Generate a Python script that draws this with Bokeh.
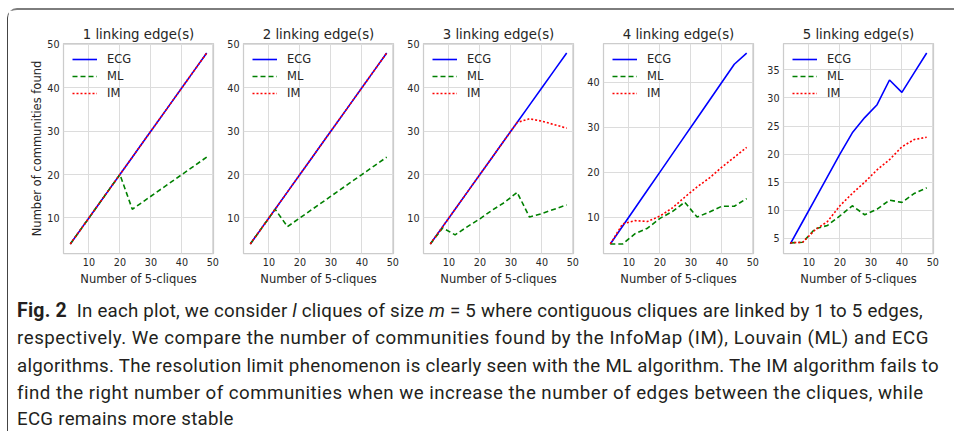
from bokeh.plotting import figure
from bokeh.layouts import row, column
from bokeh.models import FixedTicker, Range1d, Div
from bokeh.embed import file_html
from bokeh.resources import INLINE

# ---- data ----
n_cliques = [4, 8, 12, 16, 20, 24, 28, 32, 36, 40, 44, 48]

titles = ["1 linking edge(s)", "2 linking edge(s)", "3 linking edge(s)",
          "4 linking edge(s)", "5 linking edge(s)"]

ecg_1 = [4, 8, 12, 16, 20, 24, 28, 32, 36, 40, 44, 48]
ml_1 = [4, 8, 12, 16, 20, 12, 14, 16, 18, 20, 22, 24]
im_1 = [4, 8, 12, 16, 20, 24, 28, 32, 36, 40, 44, 48]

ecg_2 = [4, 8, 12, 16, 20, 24, 28, 32, 36, 40, 44, 48]
ml_2 = [4, 8, 12, 8, 10, 12, 14, 16, 18, 20, 22, 24]
im_2 = [4, 8, 12, 16, 20, 24, 28, 32, 36, 40, 44, 48]

ecg_3 = [4, 8, 12, 16, 20, 24, 28, 32, 36, 40, 44, 48]
ml_3 = [4, 7.7, 6.1, 8, 9.8, 11.8, 13.6, 15.9, 10.2, 11, 12, 13]
im_3 = [4, 8, 12, 16, 20, 24, 28, 32, 32.85, 32.3, 31.5, 30.7]

ecg_4 = [4, 8, 12, 16, 20, 24, 28, 32, 36, 40, 44, 46.5]
ml_4 = [4, 4, 6.3, 7.5, 9.7, 11.2, 13.3, 10, 11.1, 12.4, 12.4, 14.1]
im_4 = [4, 8.5, 9.2, 9.0, 10.2, 12, 14.4, 16.7, 18.7, 21.1, 23.3, 25.5]

ecg_5 = [4, 8, 12, 16, 20, 23.8, 26.5, 28.8, 33.2, 31, 34.5, 38]
ml_5 = [4.2, 4.3, 6.7, 7.3, 9, 10.8, 9.2, 10.2, 11.8, 11.4, 13, 14]
im_5 = [4.2, 4.3, 6.5, 8, 10.8, 13, 15, 17.2, 19, 21.3, 22.6, 23]

x_ticks = [10, 20, 30, 40, 50]
y_ticks_a = [10, 20, 30, 40, 50]
y_ticks_4 = [10, 20, 30, 40]
y_ticks_5 = [5, 10, 15, 20, 25, 30, 35]

x_label = "Number of 5-cliques"
y_label = "Number of communities found"

caption_lines = [
    '<b style="font-size:19.5px">Fig. 2</b>&nbsp; In each plot, we consider <i>l</i> cliques of size <i>m</i> = 5 where contiguous cliques are linked by 1 to 5 edges,',
    'respectively. We compare the number of communities found by the InfoMap (IM), Louvain (ML) and ECG',
    'algorithms. The resolution limit phenomenon is clearly seen with the ML algorithm. The IM algorithm fails to',
    'find the right number of communities when we increase the number of edges between the cliques, while',
    'ECG remains more stable',
]
caption_spacing = ["0.22px", "0.53px", "0.28px", "0.47px", "0.27px"]

panels = [
    (ecg_1, ml_1, im_1, y_ticks_a),
    (ecg_2, ml_2, im_2, y_ticks_a),
    (ecg_3, ml_3, im_3, y_ticks_a),
    (ecg_4, ml_4, im_4, y_ticks_4),
    (ecg_5, ml_5, im_5, y_ticks_5),
]

TXT = "#262626"
FONT = "DejaVu Sans"


def padded(vals):
    lo, hi = min(vals), max(vals)
    pad = 0.05 * (hi - lo)
    return Range1d(lo - pad, hi + pad)


figs = []
for i, (ecg, ml, im, yt) in enumerate(panels):
    first = i == 0
    left = 55 if first else 20
    p = figure(width=left + 150 + 10, height=33 + 212 + 33,
               x_range=padded(n_cliques), y_range=padded(ecg + ml + im),
               min_border_left=left,
               min_border_right=10, min_border_top=33, min_border_bottom=33,
               title=titles[i], output_backend="svg", toolbar_location=None,
               background_fill_color="white", border_fill_color="white")
    p.title.text_font = FONT
    p.title.text_font_size = "13.3px"
    p.title.text_font_style = "normal"
    p.title.text_color = TXT
    p.title.align = "center"
    p.title.standoff = 3

    p.xaxis.ticker = FixedTicker(ticks=x_ticks)
    p.yaxis.ticker = FixedTicker(ticks=yt)
    for ax in (p.xaxis[0], p.yaxis[0]):
        ax.major_tick_out = 0
        ax.major_tick_in = 0
        ax.minor_tick_out = 0
        ax.minor_tick_in = 0
        ax.axis_line_color = None
        ax.major_label_text_font = FONT
        ax.major_label_text_font_size = "9.6px"
        ax.major_label_text_color = TXT
        ax.major_label_standoff = 4
        ax.axis_label_text_font = FONT
        ax.axis_label_text_font_size = "11.5px"
        ax.axis_label_text_font_style = "normal"
        ax.axis_label_text_color = TXT
        ax.axis_label_standoff = 3
    p.xaxis.axis_label = x_label
    if first:
        p.yaxis.axis_label = y_label
        p.yaxis.axis_label_standoff = 0

    p.grid.grid_line_color = "#dcdcdc"
    p.grid.grid_line_width = 1
    p.outline_line_color = "#cccccc"
    p.outline_line_width = 1.25

    p.line(n_cliques, ecg, line_color="#0000ff", line_width=1.6, legend_label="ECG")
    p.line(n_cliques, ml, line_color="#008000", line_width=1.6, line_dash="5 3",
           legend_label="ML")
    p.line(n_cliques, im, line_color="#ff0000", line_width=1.6, line_dash="2 2",
           legend_label="IM")

    lg = p.legend[0]
    lg.location = "top_left"
    lg.margin = 7
    lg.padding = 2
    lg.spacing = 3
    lg.glyph_width = 25
    lg.glyph_height = 14
    lg.label_height = 14
    lg.label_standoff = 10
    lg.label_text_font = FONT
    lg.label_text_font_size = "11.5px"
    lg.label_text_color = TXT
    lg.background_fill_alpha = 0
    lg.border_line_alpha = 0
    figs.append(p)

line_divs = "".join(
    f'<div style="line-height:27.5px; letter-spacing:{sp};">{txt}</div>'
    for txt, sp in zip(caption_lines[:-1], caption_spacing[:-1])
)
line_divs += (
    f'<div style="line-height:16px; margin-top:3.75px; letter-spacing:{caption_spacing[-1]};">'
    f'{caption_lines[-1]}</div>'
)
caption_html = (
    '<div style="font-family:Roboto; font-size:18.7px; color:#231f20; '
    'padding-left:4px; padding-top:3.5px; white-space:nowrap;">'
    f'{line_divs}</div>'
)
caption = Div(text=caption_html, width=945, height=137)

layout = column(
    row(*figs, spacing=0),
    caption,
    spacing=0,
    styles={
        "margin-top": "8px",
        "margin-left": "7px",
        "border-top": "2px solid #7d7d7d",
        "border-left": "1px solid #444444",
        "border-top-left-radius": "10px",
        "background-color": "white",
    },
)

open("out.html", "w").write(file_html(layout, INLINE))
